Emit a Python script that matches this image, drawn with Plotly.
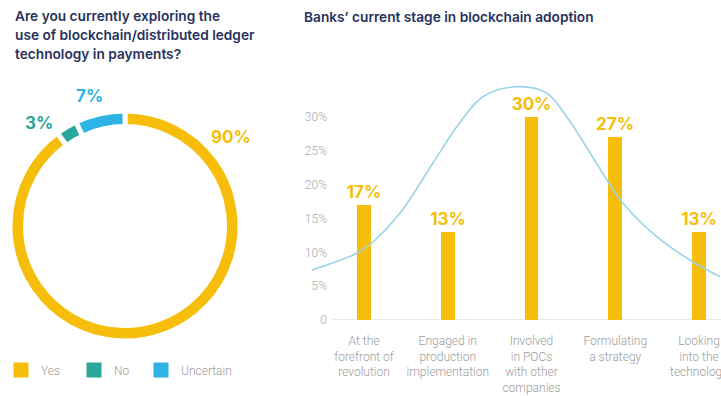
import plotly.graph_objects as go

W, H = 721, 396

# ---- data ----
pie_labels = ["Yes", "No", "Uncertain"]
pie_values = [90, 3, 7]
pie_colors = ["#F6BE0A", "#2AA79B", "#2DB4E4"]

stages = [
    "At the<br>forefront of<br>revolution",
    "Engaged in<br>production<br>implementation",
    "Involved<br>in POCs<br>with other<br>companies",
    "Formulating<br>a strategy",
    "Looking<br>into the<br>technology",
]
stage_values = [17, 13, 30, 27, 13]
stage_pos = [0, 1, 2, 3, 4]

curve_x = [-0.624, -0.087, 0.092, 0.43, 0.824, 1.107, 1.42, 1.823, 2.18, 2.42,
           2.70, 2.90, 3.09, 3.495, 3.89, 4.25]
curve_y = [7.39, 9.86, 11.38, 15.81, 23.2, 28.56, 33.0, 34.48, 33.55, 30.04,
           24.68, 20.69, 17.29, 12.31, 8.87, 6.40]

y_ticks = [0, 5, 10, 15, 20, 25, 30]
y_ticktext = ["0", "5%", "10%", "15%", "20%", "25%", "30%"]

title_left = ["Are you currently exploring the",
              "use of blockchain/distributed ledger",
              "technology in payments?"]
title_right = "Banks’ current stage in blockchain adoption"

YELLOW = "#F6BE0A"
NAVY = "#27325D"
GRAY = "#9C9C9C"


def px_x(p):
    return p / W


def px_y(p):
    return 1 - p / H


fig = go.Figure()

# donut
cx, cy, r = 125, 226, 115
fig.add_trace(go.Pie(
    labels=pie_labels, values=pie_values, hole=0.865, sort=False,
    direction="clockwise", rotation=0,
    marker=dict(colors=pie_colors, line=dict(color="white", width=5)),
    textinfo="none", hoverinfo="label+percent",
    domain=dict(x=[px_x(cx - r), px_x(cx + r)], y=[px_y(cy + r), px_y(cy - r)]),
    showlegend=False,
))

# legend entries for the donut (one legend per entry for exact placement)
legend_names = ["legend", "legend2", "legend3"]
for lab, col, lg in zip(pie_labels, pie_colors, legend_names):
    fig.add_trace(go.Scatter(
        x=[None], y=[None], mode="markers", name=lab, legend=lg,
        marker=dict(symbol="square", size=15, color=col),
        showlegend=True, hoverinfo="skip",
    ))

# bars
fig.add_trace(go.Bar(
    x=stage_pos, y=stage_values, width=0.167,
    marker=dict(color=YELLOW, line=dict(width=0)),
    text=[f"{v}%" for v in stage_values], textposition="outside",
    constraintext="none",
    textfont=dict(color=YELLOW, size=17, family="Inter", weight=700),
    cliponaxis=False, showlegend=False,
))

# curve
fig.add_trace(go.Scatter(
    x=curve_x, y=curve_y, mode="lines",
    line=dict(color="#9BD3E7", width=1.6, shape="spline", smoothing=1.0),
    showlegend=False, hoverinfo="skip",
))

x0 = (312 - 364) / 83.75
x1 = (721 - 364) / 83.75

legend_font = dict(family="Roboto", size=12, color=GRAY, weight=300)


def legend_at(xpx):
    return dict(orientation="h", x=px_x(xpx), y=px_y(370), xanchor="left",
                yanchor="middle", itemsizing="trace", font=legend_font,
                bgcolor="rgba(0,0,0,0)")


fig.update_layout(
    width=W, height=H,
    margin=dict(l=0, r=0, t=0, b=0, autoexpand=False),
    paper_bgcolor="white", plot_bgcolor="white",
    font=dict(family="Roboto", color=GRAY, size=12),
    xaxis=dict(domain=[px_x(312), 1], range=[x0, x1], tickmode="array",
               tickvals=stage_pos, ticktext=stages, showgrid=False,
               zeroline=False, showline=False, ticks="", automargin=False,
               ticklabelstandoff=12, ticklabeloverflow="allow",
               tickfont=dict(family="Roboto", size=12, color=GRAY, weight=300)),
    yaxis=dict(domain=[76 / H, 1 - 80 / H], range=[0, 35.47], tickmode="array",
               tickvals=y_ticks, ticktext=y_ticktext, showgrid=False,
               zeroline=False, showline=False, ticks="", automargin=False,
               ticklabelstandoff=-16,
               tickfont=dict(family="Roboto", size=12, color="#A8A8A8", weight=300)),
    bargap=0,
    legend=legend_at(1),
    legend2=legend_at(74),
    legend3=legend_at(141),
    shapes=[dict(type="line", xref="x", yref="y", x0=(333 - 364) / 83.75, x1=x1,
                 y0=0, y1=0, line=dict(color="#D3D3D3", width=1.2), layer="below")],
)

title_font = dict(family="Inter", size=13.7, color=NAVY, weight=600)
for i, line in enumerate(title_left):
    fig.add_annotation(xref="paper", yref="paper", x=px_x(13), y=px_y(16 + 19 * i),
                       xanchor="left", yanchor="middle", align="left", showarrow=False,
                       text=line, font=title_font)
fig.add_annotation(xref="paper", yref="paper", x=px_x(302), y=px_y(17),
                   xanchor="left", yanchor="middle", align="left", showarrow=False,
                   text=title_right, font=title_font)

lab_font = dict(family="Inter", size=17, weight=700)
for txt, col, (lx, ly) in [("90%", pie_colors[0], (231, 137)),
                          ("3%", pie_colors[1], (39, 123)),
                          ("7%", pie_colors[2], (89, 96))]:
    fig.add_annotation(xref="paper", yref="paper", x=px_x(lx), y=px_y(ly),
                       xanchor="center", yanchor="middle", showarrow=False,
                       text=txt, font=dict(color=col, **lab_font))

fig.write_html("out.html")
